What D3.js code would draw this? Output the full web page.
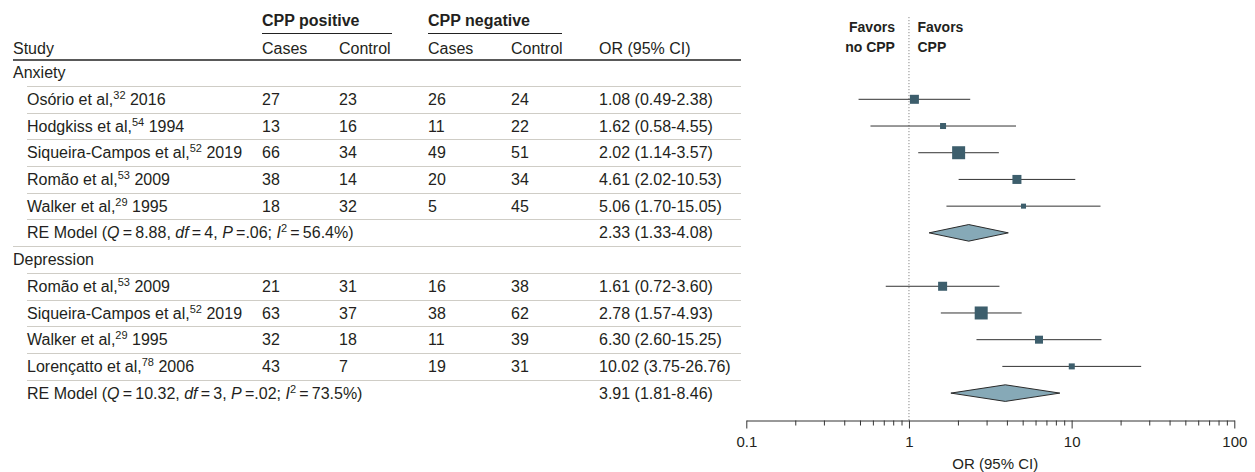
<!DOCTYPE html>
<html>
<head>
<meta charset="utf-8">
<script src="https://cdn.jsdelivr.net/npm/d3@7"></script>
<style>
  html, body { margin: 0; padding: 0; background: #fff; }
  svg { display: block; font-family: "Liberation Sans", Arial, sans-serif; }
</style>
</head>
<body>
<svg id="chart" width="1255" height="472"></svg>
<script>
// ---------- data ----------
const groups = ["Anxiety", "Depression"];
const studyGroup = [0, 0, 0, 0, 0, 1, 1, 1, 1];
const studyName = ["Osório et al,", "Hodgkiss et al,", "Siqueira-Campos et al,", "Romão et al,", "Walker et al,",
                   "Romão et al,", "Siqueira-Campos et al,", "Walker et al,", "Lorençatto et al,"];
const studyRef = ["32", "54", "52", "53", "29", "53", "52", "29", "78"];
const studyYear = ["2016", "1994", "2019", "2009", "1995", "2009", "2019", "1995", "2006"];
const posCases = [27, 13, 66, 38, 18, 21, 63, 32, 43];
const posControl = [23, 16, 34, 14, 32, 31, 37, 18, 7];
const negCases = [26, 11, 49, 20, 5, 16, 38, 11, 19];
const negControl = [24, 22, 51, 34, 45, 38, 62, 39, 31];
const orVal = [1.08, 1.62, 2.02, 4.61, 5.06, 1.61, 2.78, 6.30, 10.02];
const orLo = [0.49, 0.58, 1.14, 2.02, 1.70, 0.72, 1.57, 2.60, 3.75];
const orHi = [2.38, 4.55, 3.57, 10.53, 15.05, 3.60, 4.93, 15.25, 26.76];
const studyWeight = [20.7, 9.2, 43.1, 20.7, 6.4, 20.7, 43.1, 16.3, 9.2]; // relative weights
const reOR = [2.33, 3.91];
const reLo = [1.33, 1.81];
const reHi = [4.08, 8.46];
const reQ = ["8.88", "10.32"];
const reDf = ["4", "3"];
const reP = [".06", ".02"];
const reI2 = ["56.4", "73.5"];
const axisTicks = [0.1, 1, 10, 100];
const axisTickLabels = ["0.1", "1", "10", "100"];

// ---------- build rows ----------
const rows = [];
groups.forEach((g, gi) => {
  rows.push({ type: "group", label: g });
  studyGroup.forEach((sg, i) => { if (sg === gi) rows.push({ type: "study", i }); });
  rows.push({ type: "re", gi });
});
rows.forEach((r, k) => r.id = k);

const svg = d3.select("#chart");
const textColor = "#231f20";
const sqColor = "#3d5e6c";
const dmColor = "#86a9b7";

const y = d3.scalePoint().domain(rows.map(r => r.id)).range([72.6, 393.1]);
const step = y.step();
const x = d3.scaleLog().domain([0.1, 100]).range([746.3, 1234.3]);
const size = d3.scaleSqrt().domain([0, 50]).range([0, 14]);

const col = { study: 13, indent: 27, pCases: 262, pCtrl: 339, nCases: 428, nCtrl: 511, or: 599, right: 741 };
const fs = 16;
const fmt = d3.format(".2f");

// ---------- table header ----------
const hdr = svg.append("g").attr("fill", textColor).attr("font-size", fs);
hdr.append("text").attr("x", col.pCases).attr("y", 26).attr("font-weight", "bold").text("CPP positive");
hdr.append("text").attr("x", col.nCases).attr("y", 26).attr("font-weight", "bold").text("CPP negative");
svg.append("line").attr("x1", col.pCases).attr("x2", 392).attr("y1", 33.5).attr("y2", 33.5).attr("stroke", "#222").attr("stroke-width", 1);
svg.append("line").attr("x1", col.nCases).attr("x2", 562).attr("y1", 33.5).attr("y2", 33.5).attr("stroke", "#222").attr("stroke-width", 1);
[["Study", col.study], ["Cases", col.pCases], ["Control", col.pCtrl], ["Cases", col.nCases], ["Control", col.nCtrl], ["OR (95% CI)", col.or]]
  .forEach(([t, xx]) => hdr.append("text").attr("x", xx).attr("y", 54).text(t));
svg.append("line").attr("x1", col.study).attr("x2", col.right).attr("y1", 60).attr("y2", 60).attr("stroke", "#222").attr("stroke-width", 1.6);

// ---------- separators ----------
svg.append("g").selectAll("line").data(rows.slice(0, rows.length - 1)).join("line")
  .attr("x1", d => (d.type === "re") ? col.study : col.indent)
  .attr("x2", col.right)
  .attr("y1", d => Math.round(y(d.id) + step / 2) + 0.5)
  .attr("y2", d => Math.round(y(d.id) + step / 2) + 0.5)
  .attr("stroke", "#cfcdc6").attr("stroke-width", 1.2);

// ---------- table body ----------
const body = svg.append("g").attr("fill", textColor).attr("font-size", fs);
rows.forEach(r => {
  const by = y(r.id) + 5.6;
  if (r.type === "group") {
    body.append("text").attr("x", col.study).attr("y", by).text(r.label);
  } else if (r.type === "study") {
    const i = r.i;
    const t = body.append("text").attr("x", col.indent).attr("y", by);
    t.append("tspan").text(studyName[i]);
    t.append("tspan").attr("font-size", 11).attr("dy", -6).text(studyRef[i]);
    t.append("tspan").attr("dy", 6).text("\u00a0" + studyYear[i]);
    body.append("text").attr("x", col.pCases).attr("y", by).text(posCases[i]);
    body.append("text").attr("x", col.pCtrl).attr("y", by).text(posControl[i]);
    body.append("text").attr("x", col.nCases).attr("y", by).text(negCases[i]);
    body.append("text").attr("x", col.nCtrl).attr("y", by).text(negControl[i]);
    body.append("text").attr("x", col.or).attr("y", by).text(`${fmt(orVal[i])} (${fmt(orLo[i])}-${fmt(orHi[i])})`);
  } else {
    const g = r.gi;
    const t = body.append("text").attr("x", col.indent).attr("y", by);
    t.append("tspan").text("RE Model (");
    t.append("tspan").attr("font-style", "italic").text("Q");
    t.append("tspan").text(`\u2009=\u2009${reQ[g]}, `);
    t.append("tspan").attr("font-style", "italic").text("df");
    t.append("tspan").text(`\u2009=\u2009${reDf[g]}, `);
    t.append("tspan").attr("font-style", "italic").text("P");
    t.append("tspan").text(`\u2009=${reP[g]}; `);
    t.append("tspan").attr("font-style", "italic").text("I");
    t.append("tspan").attr("font-size", 11).attr("dy", -6).text("2");
    t.append("tspan").attr("dy", 6).text(`\u2009=\u2009${reI2[g]}%)`);
    body.append("text").attr("x", col.or).attr("y", by).text(`${fmt(reOR[g])} (${fmt(reLo[g])}-${fmt(reHi[g])})`);
  }
});

// ---------- plot ----------
const axisY = 420.5;
svg.append("line").attr("x1", x(1)).attr("x2", x(1)).attr("y1", 17).attr("y2", axisY)
  .attr("stroke", "#8a8a8a").attr("stroke-width", 1).attr("stroke-dasharray", "1.2,1.8");

const fav = svg.append("g").attr("fill", textColor).attr("font-size", 14).attr("font-weight", "bold");
fav.append("text").attr("x", x(1) - 14).attr("y", 31.5).attr("text-anchor", "end").text("Favors");
fav.append("text").attr("x", x(1) - 14).attr("y", 52).attr("text-anchor", "end").text("no CPP");
fav.append("text").attr("x", x(1) + 8.5).attr("y", 31.5).text("Favors");
fav.append("text").attr("x", x(1) + 8.5).attr("y", 52).text("CPP");

const studyRows = rows.filter(r => r.type === "study");
svg.append("g").selectAll("line").data(studyRows).join("line")
  .attr("x1", d => x(orLo[d.i])).attr("x2", d => x(orHi[d.i]))
  .attr("y1", d => y(d.id)).attr("y2", d => y(d.id))
  .attr("stroke", "#333").attr("stroke-width", 1);
svg.append("g").selectAll("rect").data(studyRows).join("rect")
  .attr("x", d => x(orVal[d.i]) - size(studyWeight[d.i]) / 2)
  .attr("y", d => y(d.id) - size(studyWeight[d.i]) / 2)
  .attr("width", d => size(studyWeight[d.i]))
  .attr("height", d => size(studyWeight[d.i]))
  .attr("fill", sqColor);

const reRows = rows.filter(r => r.type === "re");
svg.append("g").selectAll("path").data(reRows).join("path")
  .attr("d", d => {
    const cy = y(d.id), h = 8.3;
    return `M${x(reLo[d.gi])},${cy}L${x(reOR[d.gi])},${cy - h}L${x(reHi[d.gi])},${cy}L${x(reOR[d.gi])},${cy + h}Z`;
  })
  .attr("fill", dmColor).attr("stroke", "#2a2a2a").attr("stroke-width", 1);

// axis
const minor = [];
[0.1, 1, 10].forEach(dec => { for (let m = 2; m <= 9; m++) minor.push(+(dec * m).toPrecision(3)); });
const gMinor = svg.append("g").attr("transform", `translate(0,${axisY})`)
  .call(d3.axisBottom(x).tickValues(minor).tickSize(5).tickSizeOuter(0).tickFormat(""));
gMinor.select(".domain").remove();
gMinor.selectAll("line").attr("stroke", "#333");
const gAxis = svg.append("g").attr("transform", `translate(0,${axisY})`)
  .call(d3.axisBottom(x).tickValues(axisTicks).tickSize(8).tickSizeOuter(0)
    .tickFormat((d, i) => axisTickLabels[i]));
gAxis.select(".domain").attr("stroke", "#333");
gAxis.selectAll("line").attr("stroke", "#333");
gAxis.selectAll("text").attr("font-family", "Liberation Sans, Arial, sans-serif").attr("font-size", 15)
  .attr("fill", textColor).attr("y", 26).attr("dy", 0);
svg.append("text").attr("x", (x.range()[0] + x.range()[1]) / 2 + 5).attr("y", 469)
  .attr("text-anchor", "middle").attr("font-size", 15).attr("fill", textColor).text("OR (95% CI)");
</script>
</body>
</html>
